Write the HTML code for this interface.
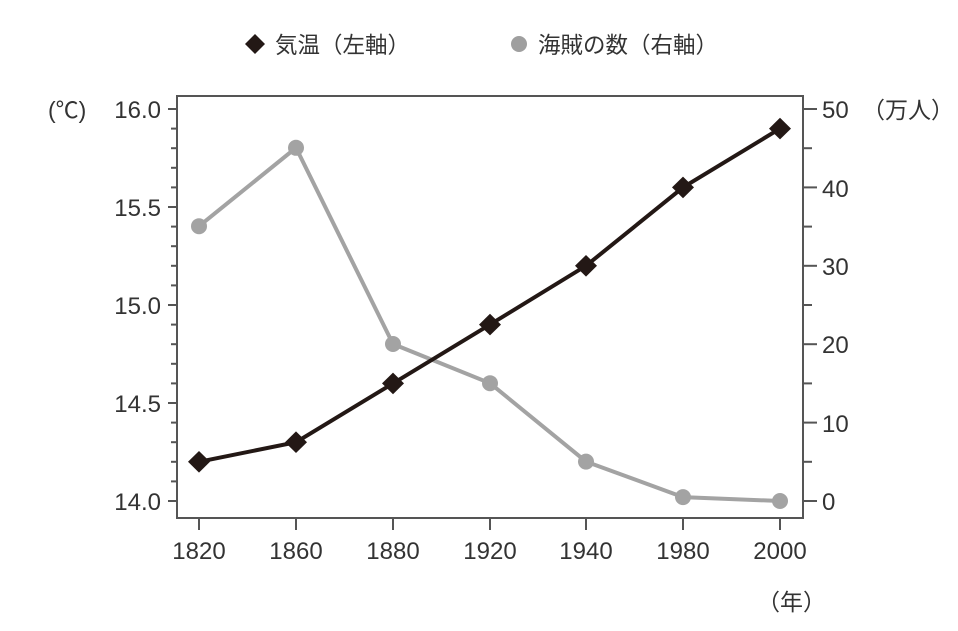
<!DOCTYPE html>
<html><head><meta charset="utf-8"><style>
html,body{margin:0;padding:0;background:#fff;}
svg text{font-family:"Liberation Sans","Noto Sans CJK JP",sans-serif;fill:#333;}
</style></head><body>
<svg width="958" height="626" viewBox="0 0 958 626" xmlns="http://www.w3.org/2000/svg">
<rect width="958" height="626" fill="#fff"/>
<polygon points="255,34 265,44 255,54 245,44" fill="#231815"/>
<text x="275" y="53" font-size="22.5">気温（左軸）</text>
<circle cx="519" cy="44" r="8" fill="#9f9f9f"/>
<text x="538" y="53" font-size="22.5">海賊の数（右軸）</text>
<rect x="177" y="96" width="626" height="422" fill="none" stroke="#555" stroke-width="2"/>
<g stroke="#555" stroke-width="2">
<line x1="168" y1="109" x2="177" y2="109"/><line x1="171" y1="128.6" x2="177" y2="128.6"/><line x1="171" y1="148.2" x2="177" y2="148.2"/><line x1="171" y1="167.8" x2="177" y2="167.8"/><line x1="171" y1="187.4" x2="177" y2="187.4"/>
<line x1="168" y1="207" x2="177" y2="207"/><line x1="171" y1="226.6" x2="177" y2="226.6"/><line x1="171" y1="246.2" x2="177" y2="246.2"/><line x1="171" y1="265.8" x2="177" y2="265.8"/><line x1="171" y1="285.4" x2="177" y2="285.4"/>
<line x1="168" y1="305" x2="177" y2="305"/><line x1="171" y1="324.6" x2="177" y2="324.6"/><line x1="171" y1="344.2" x2="177" y2="344.2"/><line x1="171" y1="363.8" x2="177" y2="363.8"/><line x1="171" y1="383.4" x2="177" y2="383.4"/>
<line x1="168" y1="403" x2="177" y2="403"/><line x1="171" y1="422.6" x2="177" y2="422.6"/><line x1="171" y1="442.2" x2="177" y2="442.2"/><line x1="171" y1="461.8" x2="177" y2="461.8"/><line x1="171" y1="481.4" x2="177" y2="481.4"/>
<line x1="168" y1="501" x2="177" y2="501"/>
<line x1="803" y1="109" x2="817" y2="109"/><line x1="803" y1="148.2" x2="812" y2="148.2"/>
<line x1="803" y1="187.4" x2="817" y2="187.4"/><line x1="803" y1="226.6" x2="812" y2="226.6"/>
<line x1="803" y1="265.8" x2="817" y2="265.8"/><line x1="803" y1="305" x2="812" y2="305"/>
<line x1="803" y1="344.2" x2="817" y2="344.2"/><line x1="803" y1="383.4" x2="812" y2="383.4"/>
<line x1="803" y1="422.6" x2="817" y2="422.6"/><line x1="803" y1="461.8" x2="812" y2="461.8"/>
<line x1="803" y1="501" x2="817" y2="501"/>
<line x1="199" y1="518" x2="199" y2="530"/><line x1="296" y1="518" x2="296" y2="530"/><line x1="393" y1="518" x2="393" y2="530"/><line x1="490" y1="518" x2="490" y2="530"/><line x1="586" y1="518" x2="586" y2="530"/><line x1="683" y1="518" x2="683" y2="530"/><line x1="780" y1="518" x2="780" y2="530"/>
</g>
<g font-size="24">
<text x="161" y="118" text-anchor="end">16.0</text>
<text x="161" y="216" text-anchor="end">15.5</text>
<text x="161" y="314" text-anchor="end">15.0</text>
<text x="161" y="412" text-anchor="end">14.5</text>
<text x="161" y="510" text-anchor="end">14.0</text>
<text x="822" y="118">50</text><text x="822" y="197">40</text><text x="822" y="275">30</text><text x="822" y="353">20</text><text x="822" y="432">10</text><text x="822" y="510">0</text>
<g text-anchor="middle">
<text x="199" y="559">1820</text><text x="296" y="559">1860</text><text x="393" y="559">1880</text><text x="490" y="559">1920</text><text x="586" y="559">1940</text><text x="683" y="559">1980</text><text x="780" y="559">2000</text>
</g>
</g>
<g font-size="23">
<text x="48" y="118">(℃)</text>
<text x="862" y="118">（万人）</text>
<text x="757" y="610">（年）</text>
</g>
<polyline points="199,226.2 296,147.8 393,344 490,383.2 586,461.6 683,497.1 780,501" fill="none" stroke="#a3a3a3" stroke-width="4"/>
<g fill="#a3a3a3">
<circle cx="199" cy="226.2" r="8"/><circle cx="296" cy="147.8" r="8"/><circle cx="393" cy="344" r="8"/><circle cx="490" cy="383.2" r="8"/><circle cx="586" cy="461.6" r="8"/><circle cx="683" cy="497.1" r="8"/><circle cx="780" cy="501" r="8"/>
</g>
<polyline points="199,461.8 296,442.2 393,383.4 490,324.6 586,265.8 683,187.4 780,128.6" fill="none" stroke="#231815" stroke-width="4"/>
<g fill="#231815">
<polygon points="199,451 210,461.8 199,472.6 188,461.8"/>
<polygon points="296,431.4 307,442.2 296,453 285,442.2"/>
<polygon points="393,372.6 404,383.4 393,394.2 382,383.4"/>
<polygon points="490,313.8 501,324.6 490,335.4 479,324.6"/>
<polygon points="586,255 597,265.8 586,276.6 575,265.8"/>
<polygon points="683,176.6 694,187.4 683,198.2 672,187.4"/>
<polygon points="780,117.8 791,128.6 780,139.4 769,128.6"/>
</g>
</svg>
</body></html>
